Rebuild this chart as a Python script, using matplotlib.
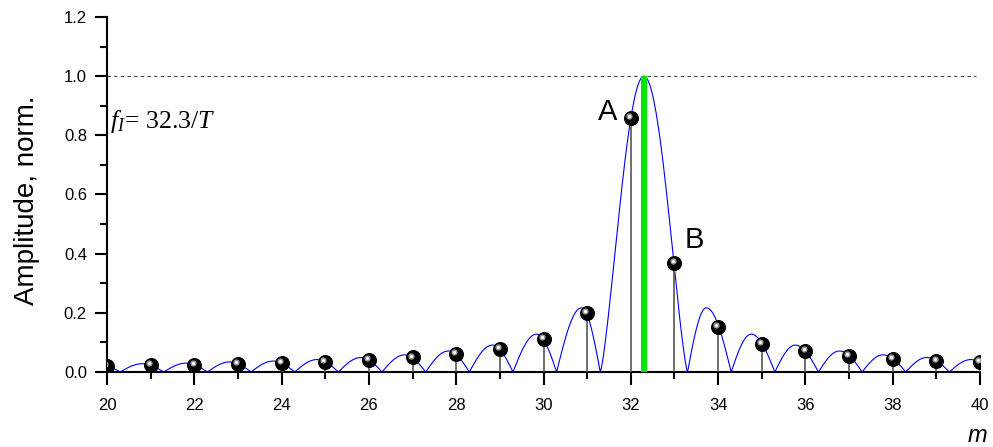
import numpy as np
import matplotlib

matplotlib.use("Agg")
import matplotlib.pyplot as plt
from matplotlib.ticker import MultipleLocator
from matplotlib.transforms import offset_copy

plt.rcParams["font.family"] = ["Liberation Sans", "DejaVu Sans"]
plt.rcParams["mathtext.fontset"] = "custom"
plt.rcParams["mathtext.rm"] = "Liberation Serif"
plt.rcParams["mathtext.it"] = "Liberation Serif:italic"

# spectral lines (integer harmonics m)
m_values = list(range(20, 41))
amplitudes = [0.021, 0.023, 0.025, 0.028, 0.031, 0.035, 0.041, 0.049, 0.060, 0.078,
              0.112, 0.198, 0.858, 0.368, 0.151, 0.095, 0.070, 0.055, 0.045, 0.038, 0.033]
f1 = 32.3

# continuous envelope: zeros and lobe maxima
lobe_zeros = [19.3, 20.3, 21.3, 22.3, 23.3, 24.3, 25.3, 26.3, 27.3, 28.3, 29.3, 30.3,
              31.3, 33.3, 34.3, 35.3, 36.3, 37.3, 38.3, 39.3, 40.3]
lobe_peak_m = [19.81, 20.81, 21.81, 22.81, 23.81, 24.81, 25.82, 26.82, 27.82, 28.83,
               29.84, 30.87, 32.3, 33.73, 34.76, 35.77, 36.78, 37.78, 38.78, 39.79]
lobe_peak_amp = [0.026, 0.028, 0.030, 0.034, 0.037, 0.042, 0.049, 0.058, 0.071, 0.091,
                 0.128, 0.217, 1.0, 0.217, 0.128, 0.091, 0.071, 0.058, 0.049, 0.042]

MAIN_LOBE_POWER = 1.33


def envelope():
    xs, ys = [], []
    for a, b, xp, yp in zip(lobe_zeros[:-1], lobe_zeros[1:], lobe_peak_m, lobe_peak_amp):
        p = MAIN_LOBE_POWER if yp >= 1.0 else 1.0
        up = np.linspace(a, xp, 40)
        down = np.linspace(xp, b, 40)[1:]
        xs += [up, down]
        ys += [yp * np.sin(np.pi / 2 * (up - a) / (xp - a)) ** p,
               yp * np.sin(np.pi / 2 * (b - down) / (b - xp)) ** p]
    return np.concatenate(xs), np.concatenate(ys)


fig = plt.figure(figsize=(9.93, 4.47), dpi=100)
ax = fig.add_axes([0.1078, 0.1678, 0.8791, 0.7942])

ax.axhline(1.0, xmax=0.995, color="#404040", lw=0.8, ls=(0, (3, 3)), zorder=1)

cx, cy = envelope()
ax.plot(cx, cy, color="#0000ff", lw=0.8, zorder=2)

ax.vlines(m_values, 0, amplitudes, color="#555555", lw=1.2, zorder=3)
ax.vlines(f1, 0, 1.0, color="#00e600", lw=4.4, zorder=4)

ax.plot(m_values, amplitudes, "o", ms=9.8, color="black", zorder=5)
hl = offset_copy(ax.transData, fig=fig, x=-1.3, y=1.4, units="points")
ax.plot(m_values, amplitudes, "o", ms=4.5, color="#9a9a9a", mec="none",
        transform=hl, zorder=6)
ax.plot(m_values, amplitudes, "o", ms=2.2, color="white", mec="none",
        transform=hl, zorder=7)

ax.text(20.06, 0.826, r"$f_I\!= \,32.3/T$", fontsize=18.5, ha="left", va="baseline")
ax.text(31.48, 0.853, "A", fontsize=21, ha="center", va="baseline")
ax.text(33.45, 0.419, "B", fontsize=21, ha="center", va="baseline")

ax.set_xlim(20, 40)
ax.set_ylim(0, 1.2)
ax.xaxis.set_major_locator(MultipleLocator(2))
ax.xaxis.set_minor_locator(MultipleLocator(1))
ax.yaxis.set_major_locator(MultipleLocator(0.2))
ax.yaxis.set_minor_locator(MultipleLocator(0.1))
ax.yaxis.set_major_formatter(plt.FormatStrFormatter("%.1f"))

for side in ("top", "right"):
    ax.spines[side].set_visible(False)
for side in ("left", "bottom"):
    ax.spines[side].set_linewidth(1.5)
ax.tick_params(which="major", direction="out", width=1.5, labelsize=12)
ax.tick_params(axis="x", which="major", length=9.5, pad=9)
ax.tick_params(axis="x", which="minor", length=5, width=1.5)
ax.tick_params(axis="y", which="major", length=8.5, pad=6)
ax.tick_params(axis="y", which="minor", length=5, width=1.5)

ax.set_ylabel("Amplitude, norm.", fontsize=20)
ax.yaxis.set_label_coords(-0.077, 0.485)
ax.set_xlabel("m", fontsize=17, style="italic", va="baseline")
ax.xaxis.set_label_coords(0.9966, -0.196)

fig.savefig("out.png", dpi=100)
